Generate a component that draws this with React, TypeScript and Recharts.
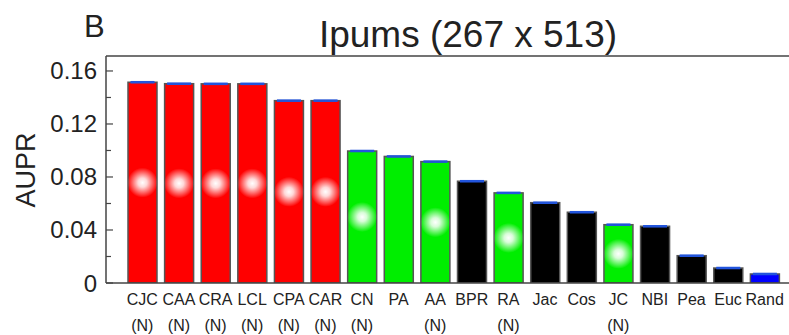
import { Bar, BarChart, ErrorBar, ReferenceLine, XAxis, YAxis } from 'recharts'

const methods = ['CJC', 'CAA', 'CRA', 'LCL', 'CPA', 'CAR', 'CN', 'PA', 'AA', 'BPR', 'RA', 'Jac', 'Cos', 'JC', 'NBI', 'Pea', 'Euc', 'Rand']
const aupr = [0.1515, 0.1504, 0.1503, 0.1503, 0.1376, 0.1376, 0.0996, 0.0955, 0.0916, 0.0768, 0.068, 0.0606, 0.0534, 0.044, 0.0428, 0.0206, 0.0113, 0.0068]
const aupr_err = [0.0004, 0.0004, 0.0004, 0.0004, 0.0004, 0.0004, 0.0004, 0.0004, 0.0004, 0.0004, 0.0004, 0.0004, 0.0004, 0.0004, 0.0004, 0.0004, 0.0004, 0.0004]
// (N) = normalised variant, drawn with the white glow
const normalised = [true, true, true, true, true, true, true, false, true, false, true, false, false, true, false, false, false, false]
const groups = ['cl', 'cl', 'cl', 'cl', 'cl', 'cl', 'lo', 'lo', 'lo', 'gl', 'lo', 'gl', 'gl', 'lo', 'gl', 'gl', 'gl', 'rand']
const yTicks = [0, 0.02, 0.04, 0.06, 0.08, 0.1, 0.12, 0.14, 0.16]
const yLabels = ['0', '', '0.04', '', '0.08', '', '0.12', '', '0.16']

const Y_MAX = 0.1713
const AXIS_X = 106
const FONT = '"Liberation Sans", Arial, sans-serif'
const INK = '#222'
const FRAME = '#444'

const groupColour: Record<string, string> = {
  cl: '#ff0000',
  lo: '#00ee00',
  gl: '#000000',
  rand: '#0000ff',
}

const data = methods.map((m, i) => ({
  method: m,
  value: aupr[i],
  err: aupr_err[i],
  n: normalised[i],
  group: groups[i],
}))

// eslint-disable-next-line @typescript-eslint/no-explicit-any
function GlowBar(props: any) {
  const { x, y, width, height, payload } = props
  const fill = groupColour[payload.group]
  return (
    <g>
      <rect x={x} y={y} width={width} height={height} fill={fill} stroke="#555" strokeWidth={1.5} />
      {payload.n && (
        <circle cx={x + width / 2} cy={y + height / 2} r={15} fill="url(#glow)" />
      )}
    </g>
  )
}

// eslint-disable-next-line @typescript-eslint/no-explicit-any
function MethodTick(props: any) {
  const { x, y, payload } = props
  const i = methods.indexOf(payload.value)
  return (
    <g>
      <text x={x} y={y + 8} textAnchor="middle" dominantBaseline="central" fontSize={16} fill={INK} fontFamily={FONT}>
        {payload.value}
      </text>
      {normalised[i] && (
        <text x={x} y={y + 34} textAnchor="middle" dominantBaseline="central" fontSize={16} fill={INK} fontFamily={FONT}>
          (N)
        </text>
      )}
    </g>
  )
}

// eslint-disable-next-line @typescript-eslint/no-explicit-any
function ValueTick(props: any) {
  const { y, payload } = props
  const i = yTicks.findIndex((t) => Math.abs(t - payload.value) < 1e-9)
  const label = i >= 0 ? yLabels[i] : ''
  const major = label !== ''
  return (
    <g>
      <line x1={AXIS_X} x2={AXIS_X + (major ? 7 : 5)} y1={y} y2={y} stroke={FRAME} strokeWidth={1.2} />
      {major && (
        <text x={97} y={y} textAnchor="end" dominantBaseline="central" fontSize={24} fill={INK} fontFamily={FONT}>
          {label}
        </text>
      )}
    </g>
  )
}

export default function App() {
  return (
    <div style={{ position: 'absolute', left: 0, top: 0, width: 789, height: 335, overflow: 'hidden', background: '#fff' }}>
      <BarChart
        width={806}
        height={335}
        data={data}
        margin={{ top: 56, right: 10, bottom: 0, left: 0 }}
        barSize={29}
      >
        <defs>
          <radialGradient id="glow">
            <stop offset="0%" stopColor="#ffffff" stopOpacity={1} />
            <stop offset="30%" stopColor="#ffffff" stopOpacity={0.85} />
            <stop offset="100%" stopColor="#ffffff" stopOpacity={0} />
          </radialGradient>
        </defs>
        <XAxis
          dataKey="method"
          height={52}
          interval={0}
          tickLine={false}
          axisLine={{ stroke: FRAME, strokeWidth: 1.5 }}
          padding={{ left: 18, right: 13 }}
          tick={<MethodTick />}
        />
        <YAxis
          width={106}
          type="number"
          domain={[0, Y_MAX]}
          ticks={yTicks}
          allowDataOverflow
          tickLine={false}
          axisLine={{ stroke: FRAME, strokeWidth: 1.5 }}
          tick={<ValueTick />}
        />
        <ReferenceLine y={Y_MAX} stroke={FRAME} strokeWidth={1.5} />
        <Bar dataKey="value" shape={<GlowBar />} isAnimationActive={false}>
          <ErrorBar dataKey="err" direction="y" width={12} stroke="#2255dd" strokeWidth={1.5} isAnimationActive={false} />
        </Bar>
      </BarChart>
      <svg
        width={789}
        height={335}
        style={{ position: 'absolute', left: 0, top: 0, pointerEvents: 'none' }}
      >
        <text x={84} y={37} fontSize={31} fill={INK} fontFamily={FONT}>
          B
        </text>
        <text x={468} y={47} fontSize={37} textAnchor="middle" fill={INK} fontFamily={FONT}>
          Ipums (267 x 513)
        </text>
        <text x={35} y={170} transform="rotate(-90 35 170)" fontSize={27} textAnchor="middle" fill={INK} fontFamily={FONT}>
          AUPR
        </text>
      </svg>
    </div>
  )
}
